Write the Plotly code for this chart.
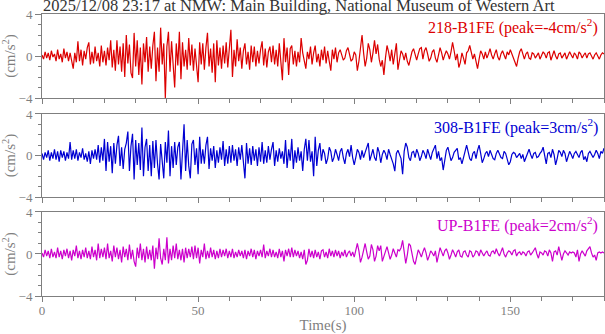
import plotly.graph_objects as go
from plotly.subplots import make_subplots

# sampling step of the traces (s)
dt = 0.5

# 218-B1FE record (cm/s^2), one row per 5 s
ew_218 = [
    0.1, -0.3, 0.4, -0.2, 0.3, -0.4, 0.5, -0.1, 0.2, -0.5,
    0.6, -0.3, 0.2, -0.6, 0.7, -0.2, 0.4, -0.5, 0.3, -0.4,
    -1.2, 0.3, -0.6, 1.4, -0.5, 0.6, -0.9, 0.5, -0.3, 0.8,
    1.3, -0.8, 0.4, -0.7, 0.9, -0.5, 0.3, -1.0, 1.0, -0.6,
    0.5, -0.9, 0.8, -0.4, 1.5, -1.1, 0.6, -1.4, 1.5, -0.8,
    0.9, -1.5, 1.2, -2.0, 2.0, -0.7, 1.1, -1.6, -2.1, 2.2,
    -1.0, 1.5, -1.8, 0.8, -2.7, 1.2, -0.6, 1.8, -1.5, 0.9,
    -1.2, 1.0, 2.3, -2.4, 0.8, -1.5, 2.7, -0.8, 1.2, -4.0,
    0.9, 2.3, -1.5, 1.4, -1.0, -3.0, 1.2, -0.9, 2.3, -2.2,
    1.3, -1.0, 0.6, -1.3, 1.7, -0.9, 1.1, -1.4, 0.7, -1.0,
    -2.5, 1.3, -0.8, 1.2, -1.3, 0.8, 2.2, -1.0, 0.7, -1.6,
    1.2, -2.5, 1.5, -0.9, 0.8, -1.2, 1.0, -0.7, 1.3, -1.1,
    0.9, 2.5, -2.0, 0.6, -1.0, 1.6, -0.5, 0.8, -1.2, 0.5,
    1.2, -0.8, 0.4, -1.3, 1.0, -0.6, 0.9, -1.0, 0.5, -0.7,
    0.6, 1.4, -0.9, 0.7, -1.1, 0.4, 0.9, -0.6, 1.0, -0.8,
    0.6, -1.0, 1.2, -0.5, -2.3, 1.7, -0.6, 0.8, -1.8, 0.7,
    1.0, -0.8, 0.5, -1.0, 0.4, -0.6, 1.7, 0.3, -0.5, -1.2,
    0.4, -0.3, 0.9, -0.8, 0.3, 1.0, -0.6, 0.2, -1.0, 0.6,
    -0.4, 0.9, -0.7, 0.5, -0.5, -1.4, 0.6, -0.3, 0.8, -0.6,
    0.3, 0.6, 0.1, -0.4, -0.2, 0.5, 0.8, 0.2, -0.5, -0.3,
    0.4, 0.1, -1.4, -0.5, 0.9, 2.0, 0.3, -1.0, -0.2, 1.2,
    0.6, -0.6, 0.3, 1.5, 0.2, 1.1, -0.3, -1.0, -0.4, -1.8,
    -0.2, 1.0, 0.4, -0.5, 0.6, -0.8, 0.2, 1.2, -1.3, -0.4,
    0.5, 0.2, -0.4, 0.3, -0.5, -0.9, -0.3, 0.4, 0.7, 0.1,
    -0.4, 0.2, 0.7, 0.8, -0.3, 0.5, 0.8, 0.2, -0.5, -0.2,
    0.4, 0.6, -0.2, -0.6, 0.2, 0.8, 0.3, -0.4, 0.1, 0.5,
    0.2, -0.3, 0.4, 1.3, 0.5, -0.4, 0.2, -1.1, -0.6, 0.3,
    -0.2, -0.8, 0.3, 0.5, 1.0, 0.3, -0.3, 0.2, -0.6, -1.2,
    -0.3, 0.5, 0.2, -0.3, 0.4, -0.2, 0.2, 0.7, 0.1, -0.3,
    0.2, 0.6, -0.1, -0.4, 0.2, 0.5, 0.1, -0.3, 0.4, 0.1,
    0.6, 0.2, -0.4, -0.6, -1.0, -0.2, 0.4, 0.7, 0.1, -0.3,
    0.2, 0.4, -0.2, -0.3, 0.3, 0.2, -0.2, 0.1, 0.3, -0.3,
    0.0, 0.4, 0.2, -0.2, 0.3, 0.4, -0.4, 0.1, 0.5, 0.0,
    -0.3, 0.2, 0.3, -0.2, 0.1, 0.3, -0.3, 0.0, 0.4, 0.1,
    -0.2, 0.3, 0.1, -0.3, 0.4, 0.2, -0.2, 0.1, 0.3, -0.2,
    0.2, 0.3, -0.1, -0.3, 0.1, 0.3, 0.0, -0.3, 0.1, 0.3, 0.2,
]

# 308-B1FE record (cm/s^2)
ns_308 = [
    0.2, -0.4, 0.3, -0.2, 0.5, -0.5, 0.3, -0.3, 0.6, -0.4,
    0.4, -0.6, 0.5, -0.2, 0.4, -0.5, 0.3, -0.3, 1.3, -0.4,
    0.5, -0.3, 0.6, -0.5, 0.3, -0.2, 0.7, -0.4, 0.2, -0.6,
    0.4, -0.8, 0.5, -0.3, 0.6, -0.4, 1.0, -0.7, 0.8, -0.5,
    1.6, -1.5, 1.3, -0.6, 0.9, -1.7, 1.2, -0.8, 1.0, 1.9,
    -1.0, 0.8, -1.3, 0.6, 1.2, 2.3, -1.5, 0.9, 2.1, -2.3,
    1.5, -0.9, 1.2, -1.4, 2.7, -2.0, 0.8, 1.6, -1.5, 1.0,
    -2.0, 1.4, -1.2, 1.5, -0.8, -2.3, 1.1, -0.6, -2.2, 1.3,
    -0.7, 2.4, -2.0, 0.9, -1.2, 1.3, -0.9, 0.8, 1.3, -2.3,
    0.6, 3.0, -1.5, 1.5, -1.0, -2.2, 1.1, 1.5, -0.9, 0.7,
    -1.8, 1.8, -0.8, 0.6, -0.8, 1.0, 1.8, -1.3, 0.7, -0.5,
    0.9, -1.2, 0.5, -0.7, 0.8, -0.4, 1.4, -1.0, 0.6, -0.8,
    0.9, -0.7, 1.0, -0.5, 0.6, -1.0, 0.8, -0.4, 1.0, -0.6,
    -2.2, 1.2, -0.8, 0.7, -0.9, 0.9, -0.5, 0.6, -1.0, 0.8,
    -0.6, 1.3, -0.8, 0.5, -0.7, 0.9, -0.4, 0.6, 1.3, -1.0,
    0.5, -0.6, 0.7, -0.3, 0.4, -0.8, 1.5, -1.2, 0.6, -0.5,
    1.6, -1.3, 0.5, -0.7, 0.8, -0.5, 0.4, -1.5, 0.6, 1.6,
    -0.5, 1.5, -0.6, 0.4, -2.0, 1.8, -1.0, 0.5, 1.2, -0.5,
    0.6, 0.2, -0.8, -0.3, 0.8, 0.4, -0.6, -0.2, 0.6, 0.1,
    -0.5, 0.4, 0.7, -0.2, -0.8, 0.2, 0.6, -0.1, 1.0, -0.2,
    -0.9, -0.2, 0.6, 0.3, -0.4, 0.5, -0.2, 0.3, 0.7, 1.2,
    -0.5, 0.2, 0.6, -0.2, -0.5, 0.8, 0.3, -0.7, 0.1, 0.5,
    0.2, -0.4, 0.6, 0.1, -0.3, -0.8, -1.5, 0.2, 0.5, 0.1,
    -0.3, -1.8, 0.4, 1.2, 0.8, -0.2, -0.5, 0.3, 0.4, -0.2,
    0.6, 0.2, -0.5, -0.1, 0.5, 0.2, -0.3, 0.6, 0.2, -0.4,
    0.3, 0.6, 1.0, -0.3, 0.4, -0.5, -0.2, -1.4, -0.4, 0.5,
    0.8, 0.2, -0.5, -0.2, 0.3, 0.5, 0.7, -0.4, -0.2, -0.8,
    -0.3, 0.4, 1.0, 0.3, -0.3, -0.5, 0.2, 0.4, -0.3, 0.5,
    1.0, 0.2, -0.7, -0.3, 0.2, 0.4, -0.1, 0.5, 0.1, -0.3,
    -0.4, 0.2, 0.5, 0.1, -0.2, -0.3, 0.4, 0.2, -0.5, -0.9,
    -0.6, 0.1, 0.3, 0.2, -0.2, 0.0, 0.2, -0.3, 0.1, -0.6,
    -0.2, 0.3, 0.6, 0.1, -0.3, 0.2, 0.3, -0.2, -0.1, 0.2,
    0.4, 0.8, -0.2, -0.8, 0.2, 0.3, -0.2, 0.6, 0.1, -0.9,
    -0.3, 0.5, 0.3, -0.1, 0.5, 0.2, -0.6, -0.2, 0.4, 0.1,
    -0.3, 0.2, 0.4, 0.1, -0.2, 0.3, 0.5, -0.4, -0.1, -0.6,
    0.2, 0.4, 0.1, -0.2, 0.1, 0.5, 0.2, -0.3, 0.4, 0.2, 0.7,
]

# UP-B1FE record (cm/s^2)
ud_up = [
    0.1, -0.3, 0.4, -0.2, 0.3, -0.4, 0.5, -0.3, 0.2, -0.4,
    0.6, -0.3, 0.3, -0.5, 0.4, -0.2, 0.5, -0.4, 0.3, -0.6,
    0.4, -0.2, 0.8, -0.4, 0.3, -0.5, 0.4, -0.3, 0.6, -0.4,
    0.3, -0.5, 0.7, -0.3, 0.4, -0.6, 1.0, -0.4, 0.5, -0.3,
    0.6, -0.5, 1.0, -0.4, 0.3, -0.7, 0.8, -0.3, 0.6, -0.5,
    0.4, -0.8, 0.7, -0.3, 0.5, -0.6, 0.9, -0.5, 0.4, -0.7,
    -1.2, 0.6, -0.4, 1.0, -0.6, 0.5, -0.8, 0.7, -0.5, 0.4,
    -0.6, 0.8, -1.4, 0.6, -0.5, 1.5, -0.4, -1.0, 0.5, -0.6,
    1.6, -0.9, 0.5, -0.6, 0.8, -0.4, 1.0, -0.5, 0.4, -0.6,
    0.5, -0.8, 0.6, -0.4, 0.5, -0.3, 0.7, -0.5, 0.8, -0.4,
    0.6, -0.9, 0.4, -0.3, 1.0, -0.5, 0.3, -0.4, 0.6, -0.3,
    0.4, -0.5, 0.3, -0.4, 0.5, -0.3, 0.4, -0.2, 0.5, -0.4,
    0.3, -0.3, 0.5, -0.4, 0.2, -0.3, 0.4, -0.2, 0.3, -0.4,
    0.4, -0.5, 0.3, -0.2, 0.5, -0.3, 0.4, -0.5, 0.3, -0.2,
    0.4, -0.3, 0.9, -0.4, 0.3, -0.2, 0.5, -0.3, 0.4, -0.3,
    0.2, -0.4, 0.5, -0.3, 0.3, -0.7, 0.4, -0.2, 0.5, -0.3,
    0.6, -0.3, 0.4, -0.2, 0.3, -0.4, 0.2, -0.5, 0.4, -1.0,
    -0.6, 0.5, -0.3, 0.3, -0.4, 0.4, -0.3, 0.2, -0.5, 0.3,
    0.4, -0.3, 0.2, -0.4, 0.5, -0.2, 0.3, -0.3, 0.4, -0.2,
    0.3, -0.4, 0.2, -0.2, 0.4, -0.3, 0.1, 0.3, -0.2, 0.2,
    -0.3, 0.4, 1.0, 0.3, -0.8, -0.3, 0.4, 1.0, 0.2, -0.5,
    -0.2, 0.9, 0.4, -0.7, -0.2, 0.8, 0.3, 0.8, -0.7, -0.2,
    0.4, 0.7, 0.1, -0.5, -0.1, 0.5, 0.1, -0.3, 0.4, 0.3,
    0.6, 1.3, 0.2, -0.9, -0.1, 1.0, 0.8, 0.1, -0.7, -1.0,
    -0.2, 0.4, 0.1, -0.3, 0.2, 0.6, 0.1, -0.6, -0.2, 0.3,
    0.1, -0.2, 0.3, -0.8, -0.1, 0.6, 0.2, -0.2, 0.3, 0.5,
    0.1, -0.5, -0.1, 0.4, 0.1, -0.3, 0.2, 0.4, -0.2, -0.3,
    0.2, 0.3, -0.1, -0.3, 0.3, 0.2, -0.3, -0.1, 0.3, 0.2,
    -0.2, 0.4, 0.1, -0.2, 0.1, 0.3, -0.1, -0.2, 0.2, 0.3,
    0.0, 0.5, 0.1, -0.2, 0.2, 0.6, 0.0, -0.3, 0.1, 0.3,
    0.2, -0.1, 0.3, 0.4, -0.2, 0.1, 0.2, -0.1, 0.2, 0.1,
    -0.2, 0.2, 0.3, -0.1, 0.1, 0.3, 0.6, 0.0, -0.4, 0.2,
    0.1, -0.1, 0.3, 0.2, -0.2, 0.4, 0.1, -0.7, 0.2, 0.3,
    -0.1, 0.7, 0.1, -0.6, 0.0, 0.3, 0.1, -0.1, 0.2, 0.1,
    0.2, 0.1, -0.3, 0.4, -0.7, 0.0, 0.3, 0.1, -0.2, 0.3,
    0.5, 0.7, 0.1, -0.3, -0.1, -0.6, 0.1, 0.2, 0.1, 0.2, 0.1,
]

channels = ["218-B1FE", "308-B1FE", "UP-B1FE"]
peaks = [-4, 3, 2]
colors = ["#dc0000", "#0000d2", "#cc00cc"]
traces = [ew_218, ns_308, ud_up]

title_text = "2025/12/08 23:17 at NMW: Main Building, National Museum of Western Art"
serif = "Liberation Serif, Times New Roman, serif"
grey = "#7f7f7f"

fig = make_subplots(rows=3, cols=1)

for k, values in enumerate(traces):
    t = [i * dt for i in range(len(values))]
    fig.add_trace(go.Scatter(
        x=t, y=values, mode="lines",
        line=dict(color=colors[k], width=1.2),
        hoverinfo="skip", showlegend=False
    ), row=k + 1, col=1)

domains = [[0.7021, 1.0], [0.351, 0.6454], [0.0, 0.2979]]

for k in range(3):
    n = "" if k == 0 else str(k + 1)
    fig.layout["yaxis" + n].update(
        domain=domains[k], range=[-4, 4], autorange=False, automargin=False,
        tickvals=[-4, 0, 4], ticks="outside", ticklen=6, tickcolor=grey,
        minor=dict(dtick=1, ticks="outside", ticklen=3, tickcolor=grey),
        showline=True, linecolor=grey, linewidth=1, mirror=True,
        showgrid=False, zeroline=False,
        tickfont=dict(family=serif, size=13, color=grey),
        title=dict(text="(cm/s<sup>2</sup>)", standoff=1,
                   font=dict(family=serif, size=15, color=grey)),
    )
    fig.layout["xaxis" + n].update(
        range=[0, 180], autorange=False, automargin=False,
        tickvals=[0, 50, 100, 150],
        ticks="outside", ticklen=5, tickcolor=grey,
        minor=dict(dtick=10, ticks="outside", ticklen=4, tickcolor=grey),
        showline=True, linecolor=grey, linewidth=1, mirror=True,
        showgrid=False, zeroline=False, showticklabels=(k == 2),
        tickfont=dict(family=serif, size=13, color=grey),
    )
    fig.add_annotation(
        x=1.0, y=domains[k][1], xref="paper", yref="paper",
        xanchor="right", yanchor="top", xshift=-4, yshift=0,
        text="%s (peak=%dcm/s<sup>2</sup>)" % (channels[k], peaks[k]),
        showarrow=False, font=dict(family=serif, size=16, color=colors[k])
    )

fig.layout.xaxis3.ticklabelstandoff = -3
fig.layout.xaxis3.title = dict(text="Time(s)", standoff=1,
                               font=dict(family=serif, size=15, color=grey))

# station / event header above the top panel
fig.add_annotation(
    x=0, y=1, xref="paper", yref="paper", xanchor="left", yanchor="bottom",
    xshift=-1, yshift=-3, text=title_text, showarrow=False,
    font=dict(family=serif, size=16.5, color="#333333")
)

fig.update_layout(
    width=605, height=334,
    margin=dict(l=42, r=1, t=14, b=38),
    paper_bgcolor="white", plot_bgcolor="white",
)

fig.write_html("out.html", config=dict(displayModeBar=False),
               post_script="document.body.style.margin = '0px';")
